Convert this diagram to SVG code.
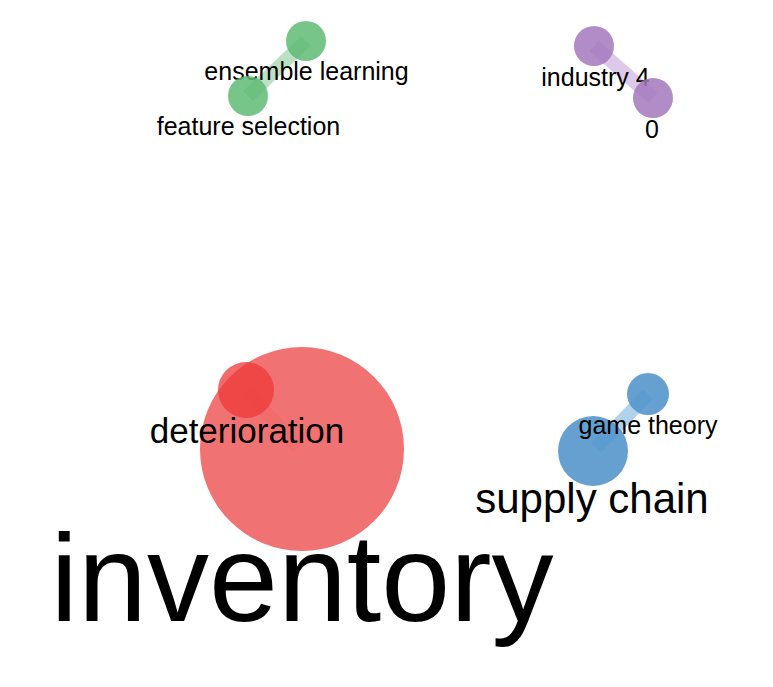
<svg xmlns="http://www.w3.org/2000/svg" width="773" height="687" viewBox="0 0 773 687">
<style>
text{font-family:"Liberation Sans",Arial,sans-serif;fill:#000;text-anchor:middle}
.edge{stroke-linecap:butt;fill:none}
.g{fill:#5fbb74;fill-opacity:0.85}
.p{fill:#a478bd;fill-opacity:0.85}
.r{fill:#f06363;fill-opacity:0.9}
.r2{fill:#ee3838;fill-opacity:0.75}
.b{fill:#5496cb;fill-opacity:0.9}
</style>
<rect width="773" height="687" fill="#fff"/>
<g id="connectors">
<line class="edge" x1="306" y1="41" x2="248" y2="96" stroke="#a9dbb3" stroke-width="14" opacity="0.8"/>
<line class="edge" x1="594" y1="46" x2="653" y2="98" stroke="#d5bde2" stroke-width="14" opacity="0.8"/>
<line class="edge" x1="246" y1="390" x2="298" y2="448" stroke="#ee4848" stroke-width="14" opacity="0.35"/>
<line class="edge" x1="648" y1="394" x2="596" y2="448" stroke="#a9cde9" stroke-width="14" opacity="0.9"/>
</g>
<g id="node-inventory">
<circle class="r" cx="302" cy="449" r="102"/>
<text x="302" y="621" font-size="124">inventory</text>
</g>
<g id="node-deterioration">
<circle class="r2" cx="246" cy="390" r="28"/>
<text x="247" y="443" font-size="35">deterioration</text>
</g>
<g id="node-ensemble-learning">
<circle class="g" cx="306" cy="41" r="20"/>
<text x="306.5" y="80" font-size="25">ensemble learning</text>
</g>
<g id="node-feature-selection">
<circle class="g" cx="248" cy="96" r="20"/>
<text x="248.5" y="135" font-size="25">feature selection</text>
</g>
<g id="node-industry-4">
<circle class="p" cx="594" cy="46" r="20"/>
<text x="595.5" y="86" font-size="25">industry 4</text>
</g>
<g id="node-0">
<circle class="p" cx="653" cy="98" r="20"/>
<text x="652" y="138" font-size="25">0</text>
</g>
<g id="node-supply-chain">
<circle class="b" cx="593" cy="451" r="35"/>
<text x="592" y="513" font-size="42">supply chain</text>
</g>
<g id="node-game-theory">
<circle class="b" cx="648" cy="394" r="21"/>
<text x="648" y="434" font-size="25">game theory</text>
</g>
</svg>
